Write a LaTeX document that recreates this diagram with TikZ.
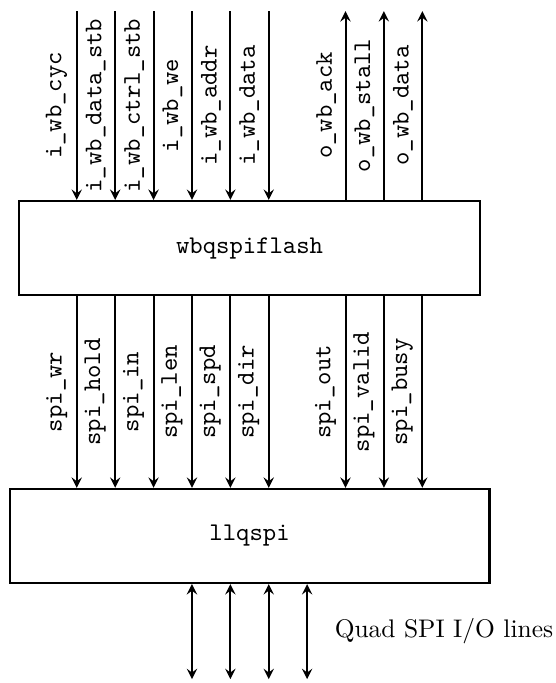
\documentclass[tikz,border=0pt]{standalone}
\usepackage{tikz}
\usetikzlibrary{positioning}

\begin{document}
\begin{tikzpicture} [x=0.53cm, y=0.53cm,
            node distance = 3.975cm,
            on grid]
            \tikzstyle{block}=[draw, thick, rectangle, minimum height=1.3cm, font=\ttfamily]
            \tikzstyle{sig}=[rotate=90, anchor=south, font=\ttfamily]

            \useasboundingbox (0,0) rectangle (14.48,17.79);

            % Block wbqspiflash
            \node (wb) [block, minimum width=6.36cm] at (6.5,11.33) {wbqspiflash};

            % Block llqspi
            \node (ll) [block,
                minimum width=6.625cm,
                below = of wb] {llqspi};

            % Wishbone bus ends
            \coordinate (cyc)   at (2,17.5);
            \coordinate (dstb)  at (3,17.5);
            \coordinate (cstb)  at (4,17.5);
            \coordinate (we)    at (5,17.5);
            \coordinate (addr)  at (6,17.5);
            \coordinate (idata) at (7,17.5);
            \coordinate (ack)   at (9,17.5);
            \coordinate (stall) at (10,17.5);
            \coordinate (odata) at (11,17.5);

            % Flash pins
            \coordinate (io0) at (5,0.1);
            \coordinate (io1) at (6,0.1);
            \coordinate (io2) at (7,0.1);
            \coordinate (io3) at (8,0.1);

            % Wishbone arrows
            \path [-stealth, thick]
                (cyc)   edge node[sig] {i\_wb\_cyc}       (cyc |- wb.north)
                (dstb)  edge node[sig] {i\_wb\_data\_stb} (dstb |- wb.north)
                (cstb)  edge node[sig] {i\_wb\_ctrl\_stb} (cstb |- wb.north)
                (we)    edge node[sig] {i\_wb\_we}        (we |- wb.north)
                (addr)  edge node[sig] {i\_wb\_addr}      (addr |- wb.north)
                (idata) edge node[sig] {i\_wb\_data}      (idata |- wb.north)

                (wb.north -| ack)   edge node[sig] {o\_wb\_ack}   (ack)
                (wb.north -| stall) edge node[sig] {o\_wb\_stall} (stall)
                (wb.north -| odata) edge node[sig] {o\_wb\_data}  (odata);

            % SPI command arrows
            \path [-stealth, thick]
                (wb.south -| cyc)   edge node[sig] {spi\_wr}    (ll.north -| cyc)
                (wb.south -| dstb)  edge node[sig] {spi\_hold}  (ll.north -| dstb)
                (wb.south -| cstb)  edge node[sig] {spi\_in}    (ll.north -| cstb)
                (wb.south -| we)    edge node[sig] {spi\_len}   (ll.north -| we)
                (wb.south -| addr)  edge node[sig] {spi\_spd}   (ll.north -| addr)
                (wb.south -| idata) edge node[sig] {spi\_dir}   (ll.north -| idata)

                (wb.south -| ack)   edge node[sig] {spi\_out}   (ll.north -| ack)
                (wb.south -| stall) edge node[sig] {spi\_valid} (ll.north -| stall)
                (wb.south -| odata) edge node[sig] {spi\_busy}  (ll.north -| odata);

            % Quad SPI lines
            \path [stealth-stealth, thick]
                (ll.south -| io0) edge (io0)
                (ll.south -| io1) edge (io1)
                (ll.south -| io2) edge (io2)
                (ll.south -| io3) edge node[anchor=west, xshift=2.5mm] {Quad SPI I/O lines} (io3);
\end{tikzpicture}
\end{document}
